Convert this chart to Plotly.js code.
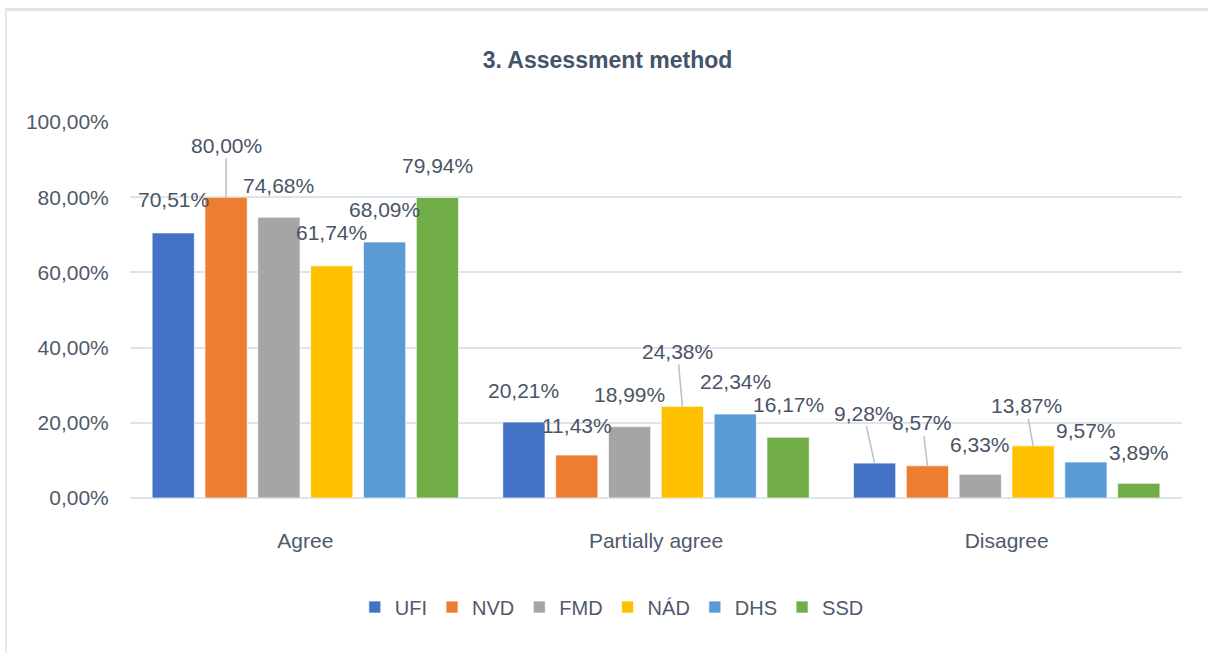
<!DOCTYPE html>
<html>
<head>
<meta charset="utf-8">
<script src="https://cdn.plot.ly/plotly-3.0.1.min.js"></script>
<style>
  body { margin: 0; background: #ffffff; }
  #chart {
    position: absolute; left: 5px; top: 8px;
    width: 1201px; height: 642px;
    border-top: 3px solid #dde2ec;
    border-left: 2px solid #e3e7ef;
  }
</style>
</head>
<body>
<div id="chart"></div>
<script>
// values, in percent
const categories = ['Agree', 'Partially agree', 'Disagree'];
const seriesNames = ['UFI', 'NVD', 'FMD', 'NÁD', 'DHS', 'SSD'];
const ufi = [70.51, 20.21, 9.28];
const nvd = [80.00, 11.43, 8.57];
const fmd = [74.68, 18.99, 6.33];
const nad = [61.74, 24.38, 13.87];
const dhs = [68.09, 22.34, 9.57];
const ssd = [79.94, 16.17, 3.89];
const yTicks = [0, 20, 40, 60, 80, 100];

const seriesValues = [ufi, nvd, fmd, nad, dhs, ssd];
const colors = ['#4472C4', '#ED7D31', '#A5A5A5', '#FFC000', '#5B9BD5', '#70AD47'];

// label placement (pixel offsets from bar top), some moved with leader lines like in Excel
const labelDx = [[0, 0, -11], [0, 0, -5], [0, 0, 0], [0, -5, -7], [0, 0, 0], [0, 0, 0]];
const labelDy = [[-33, -32, -50], [-52, -30, -43], [-32, -32, -30], [-33, -55, -40], [-32, -33, -32], [-32, -33, -31]];
const leader = [[0, 0, 1], [1, 0, 1], [0, 0, 0], [0, 1, 1], [0, 0, 0], [0, 0, 0]];

const bargap = 0.096;
const font = '"Liberation Sans", Arial, sans-serif';
const textColor = '#4a5466';

function fmt(v) {
    return v.toFixed(2).replace('.', ',') + '%';
}

const traces = seriesNames.map((name, i) => ({
    type: 'bar',
    name: name,
    x: categories,
    y: seriesValues[i],
    marker: { color: colors[i], line: { color: 'rgba(255,255,255,0.7)', width: 1 } },
    hoverinfo: 'skip'
}));

const groupWidth = 1 - bargap;
const slot = groupWidth / seriesNames.length;
const annotations = [];
seriesValues.forEach((vals, i) => {
    vals.forEach((v, c) => {
        annotations.push({
            x: c - groupWidth / 2 + (i + 0.5) * slot,
            y: v,
            xref: 'x', yref: 'y',
            text: fmt(v),
            showarrow: true,
            arrowhead: 0,
            arrowwidth: 1.5,
            arrowcolor: leader[i][c] ? '#b8c0cc' : 'rgba(0,0,0,0)',
            standoff: 0,
            ax: labelDx[i][c],
            ay: labelDy[i][c],
            font: { family: font, size: 21, color: textColor }
        });
    });
});

const layout = {
    width: 1201,
    height: 642,
    margin: { l: 123, r: 26, t: 111, b: 155 },
    paper_bgcolor: '#ffffff',
    plot_bgcolor: '#ffffff',
    font: { family: font, size: 21, color: textColor },
    title: {
        text: '<b>3. Assessment method</b>',
        x: 0.5, xanchor: 'center',
        y: 1 - 49 / 642, yanchor: 'middle',
        font: { family: font, size: 23, color: '#44546a' }
    },
    barmode: 'group',
    bargap: bargap,
    bargroupgap: 0.2,
    xaxis: {
        type: 'category',
        showgrid: false,
        showline: false,
        zeroline: false,
        ticks: 'outside', ticklen: 24, tickcolor: 'rgba(0,0,0,0)',
        tickfont: { family: font, size: 21, color: '#505a6b' }
    },
    yaxis: {
        range: [0, 100],
        tickvals: yTicks,
        ticktext: yTicks.map(fmt),
        showgrid: true,
        gridcolor: '#dfe3ea',
        gridwidth: 2,
        zeroline: true,
        zerolinecolor: '#dfe3ea',
        zerolinewidth: 2,
        showline: false,
        ticks: 'outside', ticklen: 16, tickcolor: 'rgba(0,0,0,0)',
        tickfont: { family: font, size: 21, color: '#505a6b' }
    },
    showlegend: true,
    legend: {
        orientation: 'h',
        x: 0.458, xanchor: 'center',
        y: -0.29, yanchor: 'middle',
        font: { family: font, size: 20, color: '#505a6b' },
        itemwidth: 30,
        traceorder: 'normal'
    },
    annotations: annotations
};

Plotly.newPlot('chart', traces, layout, { displayModeBar: false, staticPlot: true });
</script>
</body>
</html>
